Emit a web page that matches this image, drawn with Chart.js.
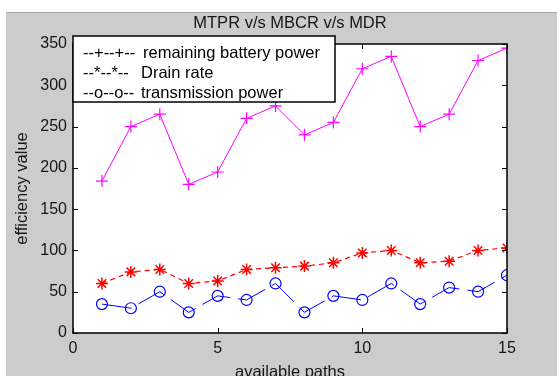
<!DOCTYPE html>
<html><head><meta charset="utf-8">
<script src="https://cdn.jsdelivr.net/npm/chart.js@4.4.0/dist/chart.umd.min.js"></script>
<style>html,body{margin:0;padding:0;background:#fff}#wrap{width:557px;height:376px;position:relative}</style>
</head><body><div id="wrap"><canvas id="c" width="557" height="376"></canvas></div>
<script>
const paths = [1,2,3,4,5,6,7,8,9,10,11,12,13,14,15];
const batteryPower = [184,250,265,180,195,260,275,240,255,320,335,250,265,330,345];
const drainRate = [60,74,77,60,63,77,79,81,85,97,100,85,87,100,103];
const transmissionPower = [35,30,50,25,45,40,60,25,45,40,60,35,55,50,70];
const xTicks = [0,5,10,15];
const yTicks = [0,50,100,150,200,250,300,350];
const legendMarks = ['--+--+--','--*--*--','--o--o--'];
const legendLabels = ['remaining battery power','Drain rate','transmission power'];
const titleText = 'MTPR v/s MBCR v/s MDR';
const xTitle = 'available paths';
const yTitle = 'efficiency value';

const FONT = 'Liberation Sans, Arial, sans-serif';
const pts = arr => paths.map((x,i)=>({x:x,y:arr[i]}));

const bgPlugin = {
  id:'bg',
  beforeDraw(chart){
    const ctx = chart.ctx, a = chart.chartArea;
    ctx.save();
    ctx.fillStyle='#ffffff'; ctx.fillRect(0,0,557,376);
    ctx.fillStyle='#cccccc'; ctx.fillRect(6,13,551,363);
    ctx.strokeStyle='#a8a8a8'; ctx.lineWidth=1;
    ctx.beginPath(); ctx.moveTo(6,12.5); ctx.lineTo(557,12.5); ctx.stroke();
    ctx.fillStyle='#ffffff'; ctx.fillRect(a.left,a.top,a.right-a.left,a.bottom-a.top);
    ctx.fillStyle='#161616'; ctx.font='16.5px '+FONT; ctx.textAlign='center'; ctx.textBaseline='middle';
    ctx.fillText(titleText,(a.left+a.right)/2,23);
    ctx.fillText(xTitle,(a.left+a.right)/2,372);
    ctx.translate(22,(a.top+a.bottom)/2); ctx.rotate(-Math.PI/2);
    ctx.fillText(yTitle,0,0);
    ctx.restore();
  },
  afterDatasetsDraw(chart){
    const ctx = chart.ctx, a = chart.chartArea;
    const xs = chart.scales.x, ys = chart.scales.y;
    ctx.save();
    ctx.strokeStyle='#000'; ctx.lineWidth=1;
    ctx.beginPath();
    xTicks.forEach(v=>{const p=Math.round(xs.getPixelForValue(v))+0.5;
      ctx.moveTo(p,a.bottom); ctx.lineTo(p,a.bottom-5); ctx.moveTo(p,a.top); ctx.lineTo(p,a.top+5);});
    yTicks.forEach(v=>{const p=Math.round(ys.getPixelForValue(v))+0.5;
      ctx.moveTo(a.left,p); ctx.lineTo(a.left+5,p); ctx.moveTo(a.right,p); ctx.lineTo(a.right-5,p);});
    ctx.stroke();
    ctx.lineWidth=1.5;
    ctx.strokeRect(a.left,a.top,a.right-a.left,a.bottom-a.top);
    // legend
    const lx=a.left, ly=36, lw=262, lh=66;
    ctx.fillStyle='#fff'; ctx.fillRect(lx,ly,lw,lh);
    ctx.strokeStyle='#000'; ctx.lineWidth=1.5; ctx.strokeRect(lx,ly,lw,lh);
    ctx.fillStyle='#000'; ctx.font='16.5px '+FONT; ctx.textAlign='left'; ctx.textBaseline='middle';
    const offs=[143,141,141];
    for(let i=0;i<3;i++){
      const y=ly+17+i*20;
      ctx.fillText(legendMarks[i],lx+10,y);
      ctx.fillText(legendLabels[i],offs[i],y);
    }
    ctx.restore();
  }
};

new Chart(document.getElementById('c'),{
  type:'line',
  data:{datasets:[
    {label:legendLabels[0],data:pts(batteryPower),borderColor:'#ff00ff',backgroundColor:'#ff00ff',borderWidth:1,
     pointStyle:'cross',pointRadius:6,pointBorderWidth:1.2,pointBorderColor:'#ff00ff',tension:0},
    {label:legendLabels[1],data:pts(drainRate),borderColor:'#ff0000',backgroundColor:'#ff0000',borderWidth:1.2,borderDash:[5,4],
     pointStyle:'star',pointRadius:6,pointBorderWidth:1.5,pointBorderColor:'#ff0000',tension:0},
    {label:legendLabels[2],data:pts(transmissionPower),borderColor:'#0000ff',backgroundColor:'rgba(0,0,0,0)',borderWidth:1,borderDash:[30,8],
     pointStyle:'circle',pointRadius:5.5,pointBorderWidth:1.2,pointBorderColor:'#0000ff',tension:0}
  ]},
  options:{
    responsive:false,animation:false,devicePixelRatio:1,
    layout:{padding:{left:0,right:50,top:44,bottom:0}},
    plugins:{legend:{display:false},tooltip:{enabled:false},title:{display:false}},
    scales:{
      x:{type:'linear',min:0,max:15,
        afterBuildTicks(s){s.ticks=xTicks.map(v=>({value:v}));},
        afterFit(s){s.height=43;},
        grid:{display:false,drawTicks:false},border:{display:false},
        ticks:{color:'#161616',font:{family:FONT,size:16},padding:6,maxRotation:0}},
      y:{type:'linear',min:0,max:350,
        afterBuildTicks(s){s.ticks=yTicks.map(v=>({value:v}));},
        afterFit(s){s.width=73;},
        grid:{display:false,drawTicks:false},border:{display:false},
        ticks:{color:'#161616',font:{family:FONT,size:16},padding:6}}
    }
  },
  plugins:[bgPlugin]
});
</script></body></html>
